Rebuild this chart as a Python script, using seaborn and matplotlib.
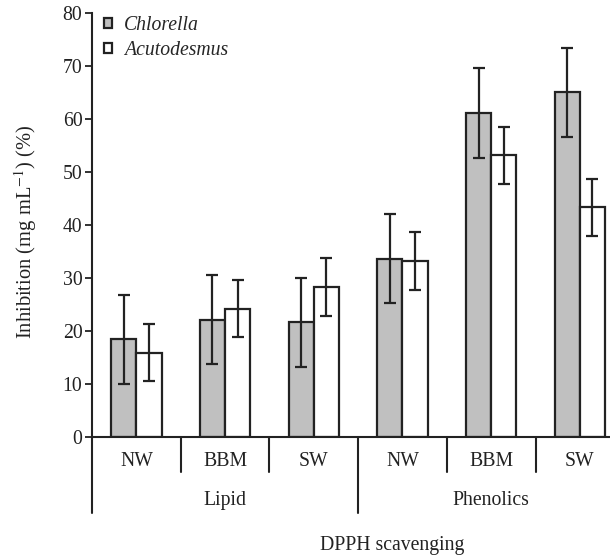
import pandas as pd
import numpy as np
import matplotlib
matplotlib.use('Agg')
import matplotlib.pyplot as plt
import seaborn as sns

# values
groups = ['Lipid', 'Phenolics']
media = ['NW', 'BBM', 'SW']
species = ['Chlorella', 'Acutodesmus']
chlorella = [18.4, 22.1, 21.6, 33.6, 61.1, 65.0]
chlorella_err = [8.4, 8.4, 8.4, 8.4, 8.4, 8.4]
acutodesmus = [15.9, 24.2, 28.3, 33.2, 53.1, 43.3]
acutodesmus_err = [5.4, 5.4, 5.4, 5.4, 5.4, 5.4]
yticks = [0, 10, 20, 30, 40, 50, 60, 70, 80]

cats = [f'{g}-{m}' for g in groups for m in media]
df = pd.DataFrame({
    'cat': cats * 2,
    'species': ['Chlorella'] * 6 + ['Acutodesmus'] * 6,
    'value': chlorella + acutodesmus,
    'err': chlorella_err + acutodesmus_err,
})

sns.set_style('white')
plt.rcParams['font.family'] = ['Liberation Serif', 'DejaVu Serif']
plt.rcParams['mathtext.fontset'] = 'stix'
fs = 14.2

fig = plt.figure(figsize=(6.1, 5.58), dpi=100)
ax = fig.add_axes([0.151, 0.217, 0.849, 0.76])

sns.barplot(data=df, x='cat', y='value', hue='species', order=cats,
            hue_order=species, palette=['#c0c0c0', 'white'], width=0.57,
            errorbar=None, edgecolor='#222222', linewidth=1.6, ax=ax)

# error bars at the bar centres
bars = [p for p in ax.patches if p.get_height() > 0]
bars.sort(key=lambda p: p.get_x())
centers = [p.get_x() + p.get_width() / 2 for p in bars]
heights = [p.get_height() for p in bars]
err_lookup = {}
for i in range(6):
    err_lookup[round(chlorella[i], 2)] = chlorella_err[i]
    err_lookup[round(acutodesmus[i], 2)] = acutodesmus_err[i]
errs = [err_lookup[round(h, 2)] for h in heights]
ax.errorbar(centers, heights, yerr=errs, fmt='none', ecolor='#222222',
            elinewidth=1.6, capsize=4.4, capthick=1.6, zorder=5)

ax.set_xlim(-0.5, 5.34)
ax.set_ylim(0, 80)
ax.set_yticks(yticks)
ax.tick_params(axis='y', direction='out', length=5, width=1.3, labelsize=fs,
               left=True, colors='#222222', pad=2)
ax.set_xticks([])
ax.set_xlabel('')
ax.set_ylabel('Inhibition (mg mL$^{-1}$) (%)', fontsize=14.8, color='#222222')
ax.yaxis.set_label_coords(-0.102, 0.485)
for s in ['top', 'right']:
    ax.spines[s].set_visible(False)
for s in ['left', 'bottom']:
    ax.spines[s].set_linewidth(1.5)
    ax.spines[s].set_color('#222222')

# category labels and separators below the axis
tr = ax.get_xaxis_transform()
for i, c in enumerate(cats):
    ax.text(i, -0.059, c.split('-')[1], transform=tr, ha='center', va='center',
            fontsize=fs, color='#222222')
for x in [0.5, 1.5, 3.5, 4.5]:
    ax.plot([x, x], [0, -0.083], transform=tr, color='#222222', lw=1.5, clip_on=False)
for x in [-0.5, 2.5]:
    ax.plot([x, x], [0, -0.179], transform=tr, color='#222222', lw=1.5, clip_on=False)
ax.text(1, -0.149, 'Lipid', transform=tr, ha='center', va='center', fontsize=fs, color='#222222')
ax.text(4, -0.149, 'Phenolics', transform=tr, ha='center', va='center', fontsize=fs, color='#222222')
ax.text(2.88, -0.255, 'DPPH scavenging', transform=tr, ha='center', va='center',
        fontsize=fs, color='#222222')

handles, labels = ax.get_legend_handles_labels()
ax.legend(handles, labels, loc='upper left', bbox_to_anchor=(-0.012, 1.035), frameon=False,
          handlelength=0.42, handleheight=0.42, handletextpad=0.6, labelspacing=0.3,
          prop={'style': 'italic', 'size': fs})

fig.savefig('out.png', dpi=100)
